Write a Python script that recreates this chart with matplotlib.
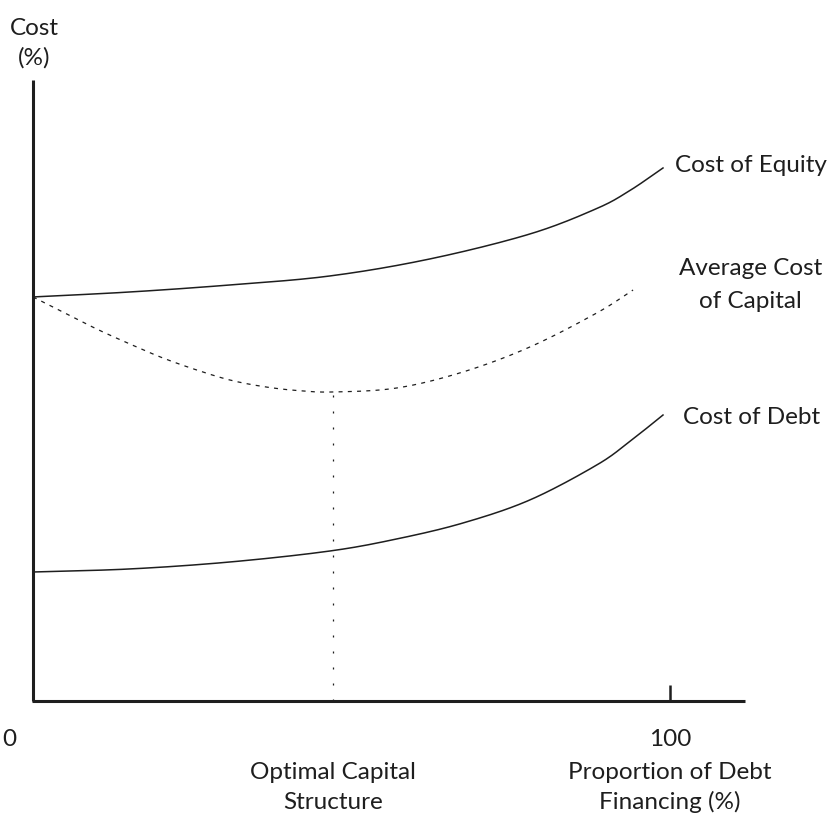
import numpy as np
import matplotlib
matplotlib.use("Agg")
import matplotlib.pyplot as plt

plt.rcParams['font.family'] = ['Lato', 'DejaVu Sans']

# Proportion of debt financing (%) and costs (%) along each curve
equity_x = [0, 15.2, 30.9, 46.6, 62.3, 78.0, 88.5, 93.7, 98.9]
equity_y = [65.06, 65.86, 66.99, 68.44, 71.18, 75.20, 79.30, 82.20, 85.83]

debt_x = [0, 15.2, 30.9, 46.6, 57.1, 67.5, 78.0, 88.5, 93.7, 98.9]
debt_y = [20.77, 21.26, 22.38, 24.15, 26.09, 28.66, 32.37, 38.00, 41.80, 46.05]

wacc_x = [0, 4.7, 10.0, 15.2, 20.4, 25.7, 30.9, 36.1, 41.4, 47.1,
          57.1, 67.5, 78.0, 88.5, 94.2]
wacc_y = [65.06, 62.64, 59.90, 57.49, 55.23, 53.30, 51.69, 50.64, 50.00,
          49.76, 50.40, 52.98, 57.00, 62.48, 66.18]

optimal_x = 47.1
x_ticks = [0, 100]
x_tick_labels = ["0", "100"]

INK = "#1e1e1e"


def smooth(xs, ys, n=24):
    """Catmull-Rom curve through the given points."""
    p = np.column_stack([xs, ys]).astype(float)
    p = np.vstack([2 * p[0] - p[1], p, 2 * p[-1] - p[-2]])
    out = []
    t = np.linspace(0, 1, n, endpoint=False)[:, None]
    for i in range(1, len(p) - 2):
        p0, p1, p2, p3 = p[i - 1], p[i], p[i + 1], p[i + 2]
        seg = 0.5 * ((2 * p1) + (-p0 + p2) * t
                     + (2 * p0 - 5 * p1 + 4 * p2 - p3) * t ** 2
                     + (-p0 + 3 * p1 - 3 * p2 + p3) * t ** 3)
        out.append(seg)
    out.append(p[-2][None, :])
    out = np.vstack(out)
    return out[:, 0], out[:, 1]


fig = plt.figure(figsize=(8.29, 8.14), dpi=100)
ax = fig.add_axes([0, 0, 1, 1])
ax.set_xlim(-5.18, 124.96)
ax.set_ylim(-18.2, 112.88)
ax.axis("off")

# axes drawn as lines
ax.plot([0, 0], [0, 100], color=INK, lw=2.2, solid_capstyle="butt")
ax.plot([-0.15, 111.8], [0, 0], color=INK, lw=2.2, solid_capstyle="butt")
ax.plot([100, 100], [0, 2.6], color=INK, lw=1.8, solid_capstyle="butt")

# cost curves
ex, ey = smooth(equity_x, equity_y)
ax.plot(ex, ey, color=INK, lw=1.1)
dx, dy = smooth(debt_x, debt_y)
ax.plot(dx, dy, color=INK, lw=1.1)
wx, wy = smooth(wacc_x, wacc_y)
ax.plot(wx, wy, color=INK, lw=0.9, linestyle=(0, (3.2, 4.2)))

# optimal capital structure marker
w_opt = np.interp(optimal_x, wacc_x, wacc_y)
ax.plot([optimal_x, optimal_x], [0, w_opt], color=INK, lw=0.9,
        linestyle=(0, (1.6, 11.2)))

fs = 17.5


def label(x, y, s, ha="center"):
    ax.text(x, y, s, ha=ha, va="baseline", fontsize=fs, color=INK)


label(0.2, 107.25, "Cost")
label(0.2, 102.42, "(%)")
label(100.8, 85.19, "Cost of Equity", ha="left")
label(112.6, 68.6, "Average Cost")
label(112.6, 63.3, "of Capital")
label(102.0, 44.6, "Cost of Debt", ha="left")

for xt, lab in zip(x_ticks, x_tick_labels):
    xpos = -3.77 if xt == 0 else xt
    label(xpos, -7.25, lab)

label(optimal_x, -12.56, "Optimal Capital")
label(optimal_x, -17.39, "Structure")
label(100, -12.56, "Proportion of Debt")
label(100, -17.39, "Financing (%)")

fig.savefig("out.png", dpi=100)
